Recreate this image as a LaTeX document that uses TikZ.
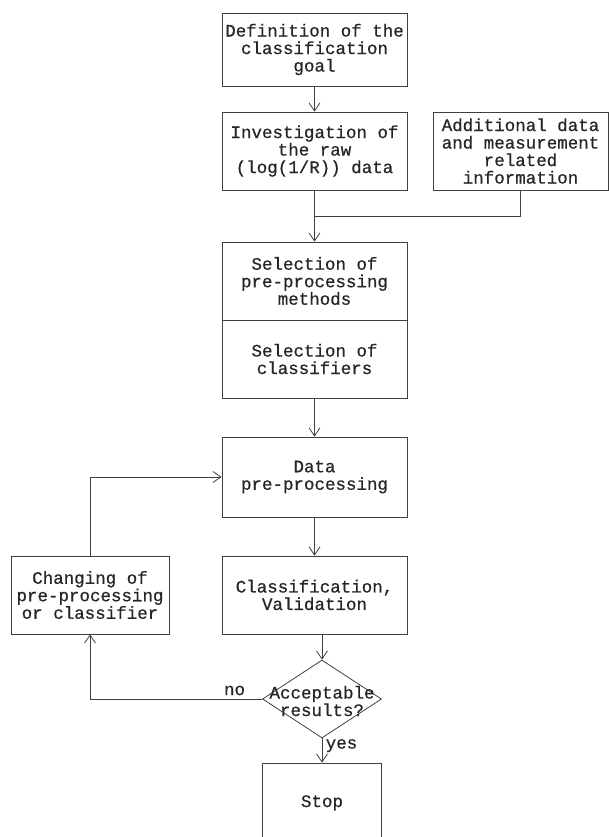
\documentclass[tikz,border=0pt]{standalone}
\usepackage{fontspec}
\newfontfamily\cour[BoldFont={Liberation Mono},BoldFeatures={FakeBold=0.6}]{Liberation Mono}
\usetikzlibrary{positioning,shapes.geometric,arrows.meta}

\begin{document}
\begin{tikzpicture}[>={Straight Barb[length=8pt,width=11pt]},node distance=100pt,on grid]
 \tikzstyle{every node}=[font=\cour\bfseries\fontsize{17.5}{17.5}\selectfont,align=center,text=black!85]
 \tikzstyle{box}=[draw=black!75,line width=0.8pt,minimum width=185pt,minimum height=78pt,inner sep=0pt]
 \tikzstyle{line}=[draw=black!75,line width=0.8pt]

\useasboundingbox (0pt,0pt) rectangle (609pt,-837pt);

\node[box,minimum height=73pt] (goal) at (314.5pt,-49.5pt) {Definition of the\\classification\\goal};
\node[box] (raw) [below=101.5pt of goal] {Investigation of\\the raw\\(log(1/R)) data};
\node[box,minimum width=175pt] (extra) [right=206pt of raw] {Additional data\\and measurement\\related\\information};
\node[box] (selpre) [below=130pt of raw] {Selection of\\pre-processing\\methods};
\node[box] (selcls) [below=78pt of selpre] {Selection of\\classifiers};
\node[box,minimum height=80pt] (data) [below=118pt of selcls] {Data\\pre-processing};
\node[box] (cls) [below=118pt of data] {Classification,\\Validation};
\node[box,minimum width=158pt] (change) [left=224.5pt of cls] {Changing of\\pre-processing\\or classifier};
\node[diamond,line,minimum width=119pt,minimum height=78pt,inner sep=0pt,
      label={[align=center,yshift=-2pt]center:Acceptable\\results?}] (dec) [below right=104pt and 7.5pt of cls] {};
\node[box,minimum width=119pt,minimum height=80pt] (stop) [below=104pt of dec] {Stop};

\coordinate (jn) at ([yshift=-26pt]raw.south);

\draw[line,->] (goal) -- (raw);
\draw[line] (raw.south) -- (jn);
\draw[line] (extra.south) |- (jn);
\draw[line,->] (jn) -- (selpre.north);
\draw[line,->] (selcls) -- (data);
\draw[line,->] (data) -- (cls);
\draw[line,->] (cls.south -| dec.north) -- (dec.north);
\draw[line,->] (dec) -- node [right,pos=0.3] {yes} (stop);
\draw[line,->] (dec.west) -| node [above,pos=0.08] {no} (change.south);
\draw[line,->] (change.north) |- (data.west);

\end{tikzpicture}
\end{document}
